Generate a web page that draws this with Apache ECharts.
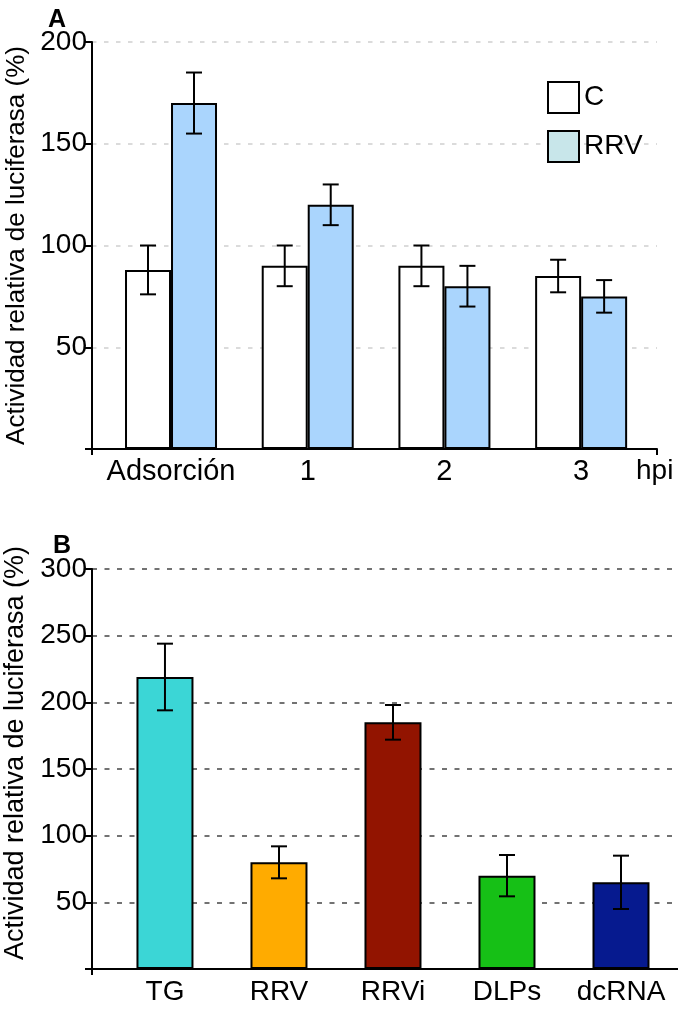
<!DOCTYPE html>
<html>
<head>
<meta charset="utf-8">
<script src="https://cdn.jsdelivr.net/npm/echarts@6/dist/echarts.min.js"></script>
<style>
  html, body { margin: 0; padding: 0; background: #fff; }
  #chart { width: 678px; height: 1010px; }
</style>
</head>
<body>
<div id="chart"></div>
<script>
// Panel A: relative luciferase activity, control vs RRV, by time point
const catsA = ['Adsorción', '1', '2', '3'];
const ctrlA = [88, 90, 90, 85];
const ctrlErrA = [12, 10, 10, 8];
const rrvA = [170, 120, 80, 75];
const rrvErrA = [15, 10, 10, 8];
const ticksA = [0, 50, 100, 150, 200];

// Panel B: relative luciferase activity by treatment
const catsB = ['TG', 'RRV', 'RRVi', 'DLPs', 'dcRNA'];
const valsB = [219, 80, 185, 70, 65];
const errB = [25, 12, 13, 15.5, 20];
const ticksB = [0, 50, 100, 150, 200, 250, 300];

const colorsB = ['#3bd6d6', '#ffab00', '#921400', '#16c016', '#061a8f'];
const FONT = 'Liberation Sans, Arial, sans-serif';
const BAR_A = 46;
const BAR_B = 57;

var chartDom = document.getElementById('chart');
var myChart = echarts.init(chartDom);

function errorBars(shift) {
    return function (params, api) {
        const x = api.value(0), y = api.value(1), e = api.value(2);
        const hi = api.coord([x, y + e]);
        const lo = api.coord([x, y - e]);
        const cx = hi[0] + shift;
        const w = 8;
        const style = { stroke: '#000', lineWidth: 2 };
        return {
            type: 'group',
            children: [
                { type: 'line', shape: { x1: cx, y1: hi[1], x2: cx, y2: lo[1] }, style: style },
                { type: 'line', shape: { x1: cx - w, y1: hi[1], x2: cx + w, y2: hi[1] }, style: style },
                { type: 'line', shape: { x1: cx - w, y1: lo[1], x2: cx + w, y2: lo[1] }, style: style }
            ]
        };
    };
}

function yAxisCommon(ticks, gridColor, dash) {
    return {
        type: 'value',
        min: ticks[0],
        max: ticks[ticks.length - 1],
        interval: ticks[1] - ticks[0],
        name: 'Actividad relativa de luciferasa (%)',
        nameLocation: 'middle',
        nameRotate: 90,
        nameGap: 44,
        nameTextStyle: { color: '#000', fontSize: 26, fontFamily: FONT },
        axisLine: { show: true, onZero: false, lineStyle: { color: '#000', width: 2 } },
        axisTick: { show: true, length: 7, lineStyle: { color: '#000', width: 2 } },
        axisLabel: {
            color: '#000', fontSize: 28, fontFamily: FONT, margin: 5,
            formatter: v => (v === 0 ? '' : String(v))
        },
        splitLine: { show: true, lineStyle: { color: gridColor, width: 1.5, type: dash } }
    };
}

const xMinA = -0.578, xMaxA = 3.555;
const xMinB = -0.64, xMaxB = 4.5;

var option = {
    animation: false,
    title: [
        { text: 'A', left: 43, top: 3, textStyle: { fontSize: 25, fontWeight: 'bold', color: '#000', fontFamily: FONT } },
        { text: 'B', left: 48, top: 529, textStyle: { fontSize: 25, fontWeight: 'bold', color: '#000', fontFamily: FONT } }
    ],
    legend: {
        left: 542,
        top: 76,
        orient: 'vertical',
        icon: 'rect',
        itemWidth: 31,
        itemHeight: 31,
        itemGap: 16,
        selectedMode: false,
        textStyle: { fontSize: 28, color: '#000', fontFamily: FONT },
        data: [
            { name: 'C', itemStyle: { color: '#fff', borderColor: '#000', borderWidth: 2 } },
            { name: 'RRV', itemStyle: { color: '#c8e6ea', borderColor: '#000', borderWidth: 2 } }
        ]
    },
    grid: [
        { left: 92, right: 21, top: 42, bottom: 561, outerBoundsMode: 'none' },
        { left: 92, right: 0, top: 569, bottom: 41, outerBoundsMode: 'none' }
    ],
    xAxis: [
        {
            gridIndex: 0,
            type: 'value',
            min: xMinA,
            max: xMaxA,
            name: 'hpi',
            nameLocation: 'end',
            nameGap: -21,
            nameTextStyle: { color: '#000', fontSize: 28, fontFamily: FONT, verticalAlign: 'top', align: 'left', padding: [8, 0, 0, 0] },
            axisLine: { show: true, onZero: false, lineStyle: { color: '#000', width: 2 } },
            axisTick: { show: true, length: 6, customValues: [xMinA, xMaxA], lineStyle: { color: '#000', width: 2 } },
            axisLabel: {
                color: '#000', fontSize: 29, fontFamily: FONT, margin: 8,
                customValues: catsA.map((c, i) => i),
                formatter: v => catsA[Math.round(v)]
            },
            splitLine: { show: false }
        },
        {
            gridIndex: 1,
            type: 'value',
            min: xMinB,
            max: xMaxB,
            axisLine: { show: true, onZero: false, lineStyle: { color: '#000', width: 2 } },
            axisTick: { show: true, length: 6, customValues: [xMinB], lineStyle: { color: '#000', width: 2 } },
            axisLabel: {
                color: '#000', fontSize: 28, fontFamily: FONT, margin: 9,
                customValues: catsB.map((c, i) => i),
                formatter: v => catsB[Math.round(v)]
            },
            splitLine: { show: false }
        }
    ],
    yAxis: [
        Object.assign({ gridIndex: 0 }, yAxisCommon(ticksA, '#cfcfcf', [4.5, 7.5])),
        Object.assign({ gridIndex: 1 }, yAxisCommon(ticksB, '#444', [5, 7.5]), {
            nameTextStyle: { color: '#000', fontSize: 27, fontFamily: FONT, padding: [0, 0, 0, 32] }
        })
    ],
    series: [
        {
            name: 'C',
            type: 'bar',
            xAxisIndex: 0, yAxisIndex: 0,
            barWidth: BAR_A,
            barGap: '0%',
            itemStyle: { color: '#fff', borderColor: '#000', borderWidth: 2 },
            data: ctrlA.map((v, i) => [i, v])
        },
        {
            name: 'RRV',
            type: 'bar',
            xAxisIndex: 0, yAxisIndex: 0,
            barWidth: BAR_A,
            barGap: '0%',
            itemStyle: { color: '#aad5fd', borderColor: '#000', borderWidth: 2 },
            data: rrvA.map((v, i) => [i, v])
        },
        {
            type: 'custom',
            xAxisIndex: 0, yAxisIndex: 0,
            renderItem: errorBars(-BAR_A / 2),
            z: 5,
            data: ctrlA.map((v, i) => [i, v, ctrlErrA[i]])
        },
        {
            type: 'custom',
            xAxisIndex: 0, yAxisIndex: 0,
            renderItem: errorBars(BAR_A / 2),
            z: 5,
            data: rrvA.map((v, i) => [i, v, rrvErrA[i]])
        },
        {
            name: 'B',
            type: 'bar',
            xAxisIndex: 1, yAxisIndex: 1,
            barWidth: BAR_B,
            itemStyle: { borderColor: '#000', borderWidth: 2 },
            data: valsB.map((v, i) => ({ value: [i, v], itemStyle: { color: colorsB[i] } }))
        },
        {
            type: 'custom',
            xAxisIndex: 1, yAxisIndex: 1,
            renderItem: errorBars(0),
            z: 5,
            data: valsB.map((v, i) => [i, v, errB[i]])
        }
    ]
};

option && myChart.setOption(option);
</script>
</body>
</html>
